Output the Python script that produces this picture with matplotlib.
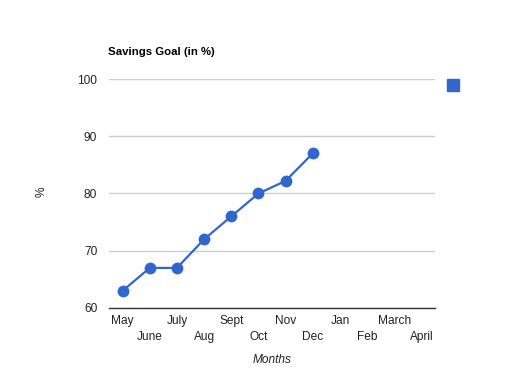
import matplotlib
matplotlib.use("Agg")
from matplotlib import pyplot as plt
from matplotlib.patches import Rectangle

plt.rcParams['font.family'] = ['Liberation Sans', 'DejaVu Sans']

months = ['May', 'June', 'July', 'Aug', 'Sept', 'Oct', 'Nov', 'Dec',
          'Jan', 'Feb', 'March', 'April']
savings = [63, 67, 67, 72, 76, 80, 82.2, 87]
y_ticks = [60, 70, 80, 90, 100]

blue = '#3366cc'

fig = plt.figure(figsize=(5.27, 3.71), dpi=100)
ax = fig.add_axes([109/527, 1 - 308/371, 326/527, 229/371])

x = list(range(len(savings)))
ax.plot(x, savings, color=blue, lw=1.6, marker='o', markersize=8.5,
        markeredgewidth=0, zorder=3)

ax.set_xlim(-0.5, len(months) - 0.5)
ax.set_ylim(60, 100)
ax.set_yticks(y_ticks)
ax.set_yticklabels([str(v) for v in y_ticks], fontsize=8.6, color='#222222')
ax.tick_params(axis='y', length=0, pad=8.5)
ax.grid(axis='y', color='#cccccc', lw=1)
ax.set_axisbelow(True)

# staggered month labels, two rows
ax.set_xticks(range(len(months)))
ax.set_xticklabels([])
ax.tick_params(axis='x', length=0)
for i, m in enumerate(months):
    yoff = -0.055 if i % 2 == 0 else -0.125
    ax.text(i, yoff, m, transform=ax.get_xaxis_transform(), ha='center',
            va='center', fontsize=8.6, color='#222222')

for s in ['top', 'right', 'left']:
    ax.spines[s].set_visible(False)
ax.spines['bottom'].set_color('#333333')
ax.spines['bottom'].set_linewidth(1)

fig.text(108/527, 1 - 52/371, 'Savings Goal (in %)', fontsize=8.2,
         fontweight='bold', ha='left', va='center')
fig.text(272/527, 1 - 360/371, 'Months', fontsize=8.6, style='italic',
         ha='center', va='center', color='#222222')
fig.text(42/527, 1 - 192/371, '%', fontsize=8.6, rotation=90,
         ha='center', va='center', color='#222222')

# legend square with no label
fig.patches.append(Rectangle((447/527, 1 - 91/371), 12/527, 12/371,
                             transform=fig.transFigure, color=blue))

fig.savefig('out.png', dpi=100)
